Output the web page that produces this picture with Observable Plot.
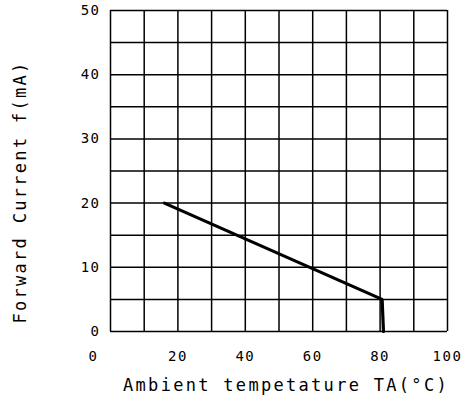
<!DOCTYPE html>
<html>
<head>
<meta charset="utf-8">
<script src="https://cdn.jsdelivr.net/npm/d3@7"></script>
<script src="https://cdn.jsdelivr.net/npm/@observablehq/plot@0.6"></script>
<style>
  html, body { margin: 0; padding: 0; background: #fff; }
  svg text { font-family: "DejaVu Sans Mono", monospace; }
  .ticklab text { letter-spacing: 1.5px; }
  .title text { letter-spacing: 2.3px; }
</style>
</head>
<body>
<div id="chart"></div>
<script>
// Derating curve: ambient temperature (°C) vs forward current (mA)
const temperature = [16, 80.6, 81];
const current = [20, 5, 0];
const xTicks = [0, 20, 40, 60, 80, 100];
const yTicks = [0, 10, 20, 30, 40, 50];
const xGrid = [0, 10, 20, 30, 40, 50, 60, 70, 80, 90, 100];
const yGrid = [0, 5, 10, 15, 20, 25, 30, 35, 40, 45, 50];
const xTitle = "Ambient tempetature TA(°C)";
const yTitle = "Forward Current f(mA)";

const curve = temperature.map((t, i) => ({t, c: current[i]}));

const chart = Plot.plot({
  width: 465,
  height: 398,
  marginLeft: 110,
  marginRight: 18,
  marginTop: 10,
  marginBottom: 67,
  x: {domain: [0, 100]},
  y: {domain: [0, 50]},
  style: {background: "#fff", color: "#000"},
  marks: [
    Plot.ruleX(xGrid, {stroke: "#000", strokeWidth: 1.5}),
    Plot.ruleY(yGrid, {stroke: "#000", strokeWidth: 1.5}),
    Plot.line(curve, {x: "t", y: "c", stroke: "#000", strokeWidth: 3.2, strokeLinejoin: "miter"}),
    Plot.axisX(xTicks.filter(d => d !== 0), {tickSize: 0, tickPadding: 20, fontSize: 14, label: null, fill: "#000", className: "ticklab"}),
    Plot.axisX([0], {tickSize: 0, tickPadding: 20, fontSize: 14, label: null, dx: -17, fill: "#000", className: "ticklab"}),
    Plot.axisY(yTicks, {tickSize: 0, tickPadding: 10, fontSize: 14, label: null, fill: "#000", className: "ticklab"}),
    Plot.text([xTitle], {frameAnchor: "bottom", dy: 59, dx: 7, text: d => d, fontSize: 17, fill: "#000", className: "title"}),
    Plot.text([yTitle], {frameAnchor: "left", textAnchor: "middle", lineAnchor: "middle", dx: -90, dy: 21, rotate: -90, text: d => d, fontSize: 17, fill: "#000", className: "title"})
  ]
});
document.getElementById("chart").appendChild(chart);
</script>
</body>
</html>
